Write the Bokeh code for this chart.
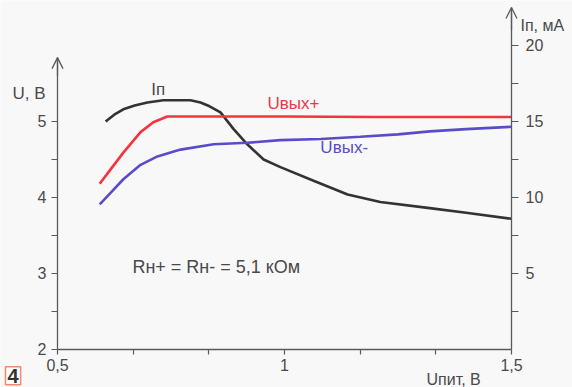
from bokeh.plotting import figure
from bokeh.models import (Range1d, LinearAxis, FixedTicker, Label, Arrow, OpenHead)
from bokeh.embed import file_html
from bokeh.resources import INLINE

# --- data ---
x_up = [0.593, 0.617, 0.645, 0.683, 0.711, 0.742, 0.80, 1.0, 1.2, 1.5]
u_up = [4.18, 4.37, 4.59, 4.86, 4.99, 5.065, 5.065, 5.065, 5.06, 5.06]

x_dn = [0.593, 0.620, 0.645, 0.683, 0.720, 0.771, 0.844, 0.918, 0.991, 1.08, 1.167, 1.25, 1.32, 1.40, 1.5]
u_dn = [3.91, 4.08, 4.24, 4.43, 4.54, 4.63, 4.70, 4.72, 4.755, 4.77, 4.80, 4.83, 4.87, 4.90, 4.93]

x_ip = [0.606, 0.625, 0.645, 0.670, 0.698, 0.733, 0.793, 0.815, 0.835, 0.859, 0.888, 0.918, 0.954, 0.991, 1.064, 1.139, 1.211, 1.32, 1.40, 1.5]
i_p  = [15.0, 15.45, 15.8, 16.05, 16.25, 16.4, 16.4, 16.25, 16.0, 15.6, 14.5, 13.5, 12.5, 12.0, 11.1, 10.2, 9.7, 9.3, 9.0, 8.6]

x_ticks = [0.5, 1.0, 1.5]
x_minor = [0.6667, 0.8333, 1.1667, 1.3333]
x_labels = {0.5: "0,5", 1: "1", 1.5: "1,5"}
u_ticks = [2, 3, 4, 5]
u_minor = [2.5, 3.5, 4.5]
i_ticks = [5, 10, 15, 20]
i_minor = [2.5, 7.5, 12.5, 17.5]

FONT = "Liberation Sans"
AX = "#5a5a5a"
TXT = "#4a4a4a"
BG = "#f8f8f8"

# the frame fills the whole canvas; axes are drawn at fixed data locations
p = figure(width=572, height=387, output_backend="svg", toolbar_location=None,
           x_range=Range1d(0.37445, 1.63436), y_range=Range1d(1.5, 6.592),
           min_border_left=0, min_border_right=0, min_border_top=0, min_border_bottom=0)
p.background_fill_color = BG
p.border_fill_color = BG
p.outline_line_color = None
p.grid.visible = False
p.extra_y_ranges = {"ip": Range1d(-2.5, 22.96)}

def style(ax):
    ax.axis_line_color = AX
    ax.axis_line_width = 1.3
    ax.major_tick_line_color = AX
    ax.minor_tick_line_color = AX
    ax.major_tick_line_width = 1.2
    ax.minor_tick_line_width = 1.2
    ax.major_tick_in = 0
    ax.minor_tick_in = 0
    ax.major_label_text_font = FONT
    ax.major_label_text_font_size = "16px"
    ax.major_label_text_color = TXT

xa = p.xaxis[0]
style(xa)
xa.fixed_location = 2
xa.bounds = (0.5, 1.5)
xa.ticker = FixedTicker(ticks=x_ticks, minor_ticks=x_minor)
xa.major_label_overrides = x_labels
xa.major_tick_out = 5
xa.minor_tick_out = 5
xa.major_label_standoff = 5

ya = p.yaxis[0]
style(ya)
ya.fixed_location = 0.5
ya.ticker = FixedTicker(ticks=u_ticks, minor_ticks=u_minor)
ya.bounds = (2, 5.84)
ya.major_tick_out = 6
ya.minor_tick_out = 6
ya.major_label_standoff = 5

ra = LinearAxis(y_range_name="ip")
style(ra)
ra.fixed_location = 1.5
ra.ticker = FixedTicker(ticks=i_ticks, minor_ticks=i_minor)
ra.bounds = (0, 22.5)
ra.major_tick_out = 7
ra.minor_tick_out = 7
ra.major_label_standoff = 7
p.add_layout(ra, "right")

# axis arrows
p.add_layout(Arrow(end=OpenHead(size=11, line_color=AX, line_width=1.3),
                   x_start=0.5, y_start=5.6, x_end=0.5, y_end=5.84,
                   line_color=AX, line_width=1.3))
p.add_layout(Arrow(end=OpenHead(size=11, line_color=AX, line_width=1.3),
                   x_start=1.5, y_start=21.0, x_end=1.5, y_end=22.5,
                   line_color=AX, line_width=1.3, y_range_name="ip"))

# curves
p.line(x_ip, i_p, line_color="#333333", line_width=2.6, y_range_name="ip")
p.line(x_dn, u_dn, line_color="#5a4cc8", line_width=2.6)
p.line(x_up, u_up, line_color="#f2343f", line_width=2.6)

def lab(x, y, t, color=TXT, size="17px", align="left", **kw):
    p.add_layout(Label(x=x, y=y, text=t, text_font=FONT, text_font_size=size,
                       text_color=color, text_align=align, text_baseline="middle", **kw))

lab(0.722, 5.42, "Iп", align="center")
lab(0.9626, 5.24, "Uвых+", color="#f2344a")
lab(1.079, 4.66, "Uвых-", color="#5a4cc8")
lab(0.665, 3.09, "Rн+ = Rн- = 5,1 кОм", size="18px")
lab(0.4009, 5.368, "U, В")
lab(1.5198, 6.263, "Iп, мА", size="16px")
lab(1.3128, 1.60, "Uпит, В", size="16px")
p.add_layout(Label(x=0.3855, y=1.655, text="4", text_font=FONT, text_font_size="20px",
                   text_font_style="bold", text_color="#333333", text_baseline="middle",
                   border_line_color="#f08a6a", border_line_width=1.5,
                   background_fill_color="#ffffff", padding=2))

open("out.html", "w").write(file_html(p, INLINE))
